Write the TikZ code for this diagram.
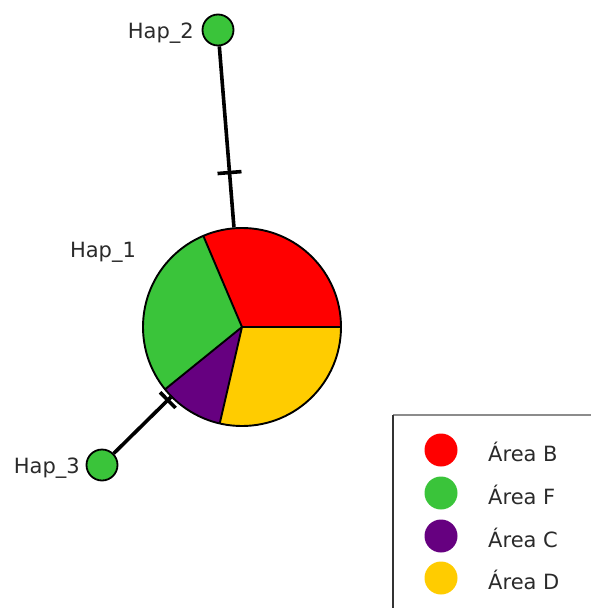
\documentclass[tikz,border=0pt]{standalone}
\usepackage{fontspec}
\setmainfont{DejaVu Sans}
\usetikzlibrary{calc}
\definecolor{cB}{HTML}{FF0000}
\definecolor{cF}{HTML}{3AC43A}
\definecolor{cC}{HTML}{660080}
\definecolor{cD}{HTML}{FFCC00}
\definecolor{txt}{HTML}{2A2A2A}
\tikzset{
  hap/.style={circle, draw=black, line width=1.8pt, fill=cF, minimum size=31pt, inner sep=0pt},
  lab/.style={text=txt, font=\fontsize{21}{25}\selectfont, inner sep=0pt},
  link/.style={line width=3.6pt, black},
  slice/.style={draw=black, line width=1.9pt, line join=round},
  legdot/.style={circle, minimum size=33pt, inner sep=0pt},
  legtxt/.style={text=txt, font=\fontsize{21}{25}\selectfont, anchor=west, inner sep=0pt}
}
\begin{document}
\begin{tikzpicture}[x=1pt,y=1pt]
\useasboundingbox (0,0) rectangle (591,-608);
% pie (Hap_1)
\coordinate (c) at (242,-327);
\def\R{99}
\fill[cB] (c) -- ++(0:\R) arc[start angle=0, end angle=113, radius=\R] -- cycle;
\fill[cF] (c) -- ++(113:\R) arc[start angle=113, end angle=219, radius=\R] -- cycle;
\fill[cC] (c) -- ++(219:\R) arc[start angle=219, end angle=257, radius=\R] -- cycle;
\fill[cD] (c) -- ++(257:\R) arc[start angle=257, end angle=360, radius=\R] -- cycle;
\draw[slice] (c) -- ++(0:\R) (c) -- ++(113:\R) (c) -- ++(219:\R) (c) -- ++(257:\R);
\node[circle, draw=black, line width=1.9pt, minimum size=198pt, inner sep=0pt] (hap1) at (c) {};
% other haplotypes
\node[hap] (hap2) at (218,-30) {};
\node[hap] (hap3) at (102,-465) {};
% links
\draw[link] (hap2) -- (hap1);
\draw[link] (hap3) -- (hap1);
\coordinate (t1) at ($(hap2)!0.48!(hap1)$);
\draw[link] ($(t1)!12pt!90:(hap1)$) -- ($(t1)!12pt!-90:(hap1)$);
\coordinate (t2) at ($(hap3)!0.47!(hap1)$);
\draw[link] ($(t2)!11pt!90:(hap1)$) -- ($(t2)!11pt!-90:(hap1)$);
% labels
\node[lab, anchor=east] (l2) at (194,-33) {Hap\_2};
\node[lab] (l1) at (103,-252) {Hap\_1};
\node[lab, anchor=east] (l3) at (80,-468) {Hap\_3};
% legend
\draw[line width=1.5pt, black!45] (393,-415) -- (591,-415);
\draw[line width=1.5pt, black!80] (393,-415) -- (393,-608);
\node[legdot, fill=cB] (dB) at (441,-450) {};
\node[legdot, fill=cF] (dF) at (441,-493) {};
\node[legdot, fill=cC] (dC) at (441,-536) {};
\node[legdot, fill=cD] (dD) at (441,-578) {};
\node[legtxt] (tB) at (488,-452) {Área B};
\node[legtxt] (tF) at (488,-495) {Área F};
\node[legtxt] (tC) at (488,-538) {Área C};
\node[legtxt] (tD) at (488,-580) {Área D};
\end{tikzpicture}
\end{document}
